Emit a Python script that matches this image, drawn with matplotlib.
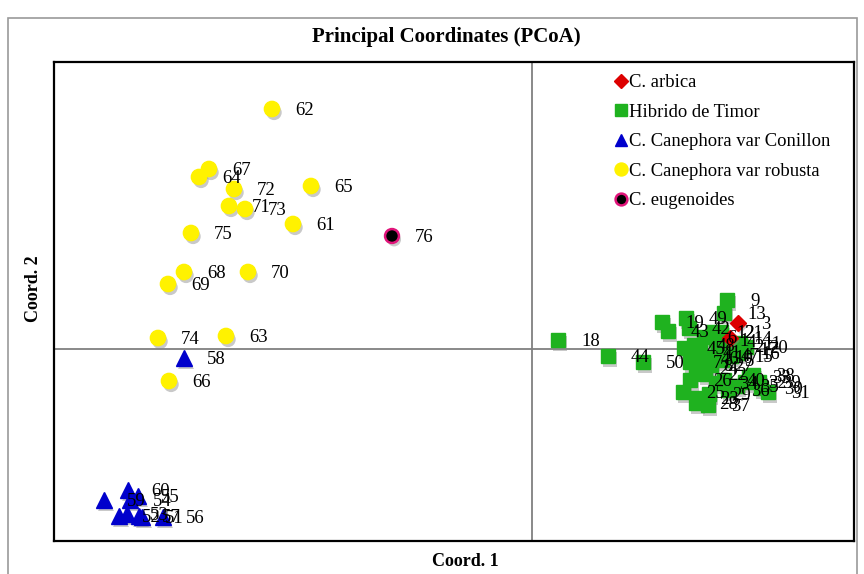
import matplotlib.pyplot as plt
import matplotlib.patheffects as pe
from matplotlib.patches import Rectangle

plt.rcParams['font.family'] = ['Liberation Serif', 'DejaVu Serif']

# Data: sample ids and PCoA coordinates (coord 1, coord 2)
arabica_ids = [3, 14]
arabica_x = [1.030, 0.990]
arabica_y = [0.130, 0.055]

timor_ids = [18, 44, 50, 19, 43, 49, 42, 9, 13, 6, 12, 21, 1, 4, 2, 20, 11, 17, 16, 15,
             45, 48, 41, 46, 10, 47, 5, 7, 8, 24, 27, 22, 26, 34, 40, 36, 35, 32, 33, 38,
             39, 30, 31, 25, 23, 29, 28, 37]
timor_x = [0.130, 0.380, 0.555, 0.650, 0.680, 0.770, 0.785, 0.975, 0.960, 0.860, 0.905, 0.945,
           0.920, 0.960, 0.995, 1.070, 1.040, 1.020, 1.030, 0.995, 0.760, 0.810, 0.840, 0.830,
           0.895, 0.930, 0.950, 0.790, 0.840, 0.820, 0.895, 0.865, 0.790, 0.920, 0.960, 0.980,
           1.025, 1.065, 1.085, 1.105, 1.135, 1.145, 1.180, 0.755, 0.825, 0.885, 0.820, 0.880]
timor_y = [0.045, -0.035, -0.065, 0.135, 0.090, 0.155, 0.105, 0.245, 0.180, 0.060, 0.085, 0.085,
           0.045, 0.040, 0.015, 0.010, 0.030, 0.000, -0.020, -0.035, 0.005, 0.020, -0.015, -0.045,
           -0.040, -0.030, -0.055, -0.065, -0.080, -0.095, -0.080, -0.125, -0.155, -0.170, -0.155,
           -0.205, -0.185, -0.165, -0.140, -0.130, -0.165, -0.195, -0.215, -0.215, -0.245, -0.225,
           -0.270, -0.280]

conillon_ids = [58, 59, 60, 54, 55, 52, 53, 57, 51, 56]
conillon_x = [-1.740, -2.140, -2.020, -2.010, -1.970, -2.065, -2.025, -1.965, -1.950, -1.845]
conillon_y = [-0.045, -0.755, -0.705, -0.755, -0.735, -0.835, -0.825, -0.835, -0.840, -0.840]

robusta_ids = [62, 67, 64, 72, 71, 73, 65, 61, 75, 68, 69, 70, 74, 63, 66]
robusta_x = [-1.300, -1.615, -1.665, -1.490, -1.515, -1.435, -1.105, -1.195, -1.705, -1.740,
             -1.820, -1.420, -1.870, -1.530, -1.815]
robusta_y = [1.200, 0.900, 0.860, 0.800, 0.715, 0.700, 0.815, 0.625, 0.580, 0.385,
             0.325, 0.385, 0.055, 0.065, -0.160]

eugen_ids = [76]
eugen_x = [-0.700]
eugen_y = [0.565]

fig = plt.figure(figsize=(8.64, 5.74), dpi=100)
fig.patches.append(Rectangle((8 / 864, -0.1), 849 / 864, 1.1 - 18 / 574,
                             transform=fig.transFigure, fill=False,
                             edgecolor='#9a9a9a', linewidth=1.2))
ax = fig.add_axes([54 / 864, 1 - 541 / 574, 800 / 864, 479 / 574])
ax.set_xlim(-2.39, 1.61)
ax.set_ylim(-0.96, 1.435)
ax.set_xticks([])
ax.set_yticks([])
for s in ax.spines.values():
    s.set_linewidth(1.6)
ax.axhline(0, color='#808080', lw=1.3, zorder=1)
ax.axvline(0, color='#808080', lw=1.3, zorder=1)

shadow = [pe.SimplePatchShadow(offset=(1.5, -2.5), shadow_rgbFace='#888888', alpha=0.45), pe.Normal()]

groups = [
    (timor_ids, timor_x, timor_y, dict(marker='s', ms=10.5, color='#1fb21f', mec='#1fb21f'), 'Hibrido de Timor'),
    (arabica_ids, arabica_x, arabica_y, dict(marker='D', ms=8, color='#dd0000', mec='#dd0000'), 'C. arbica'),
    (conillon_ids, conillon_x, conillon_y, dict(marker='^', ms=11, color='#0000cc', mec='#0000cc'), 'C. Canephora var Conillon'),
    (robusta_ids, robusta_x, robusta_y, dict(marker='o', ms=11, color='#fff200', mec='#fff200'), 'C. Canephora var robusta'),
    (eugen_ids, eugen_x, eugen_y, dict(marker='o', ms=10, color='black', mec='#e0147a', mew=1.8), 'C. eugenoides'),
]
handles = {}
for ids, xs, ys, style, name in groups:
    ax.plot(xs, ys, linestyle='none', zorder=3, path_effects=shadow, **style)
    handles[name] = ax.plot([], [], linestyle='none', **style)[0]
    for i, x, y in zip(ids, xs, ys):
        ax.annotate(str(i), (x, y), xytext=(16.5, -1), textcoords='offset points',
                    ha='left', va='center', fontsize=13.5, zorder=5)

order = ['C. arbica', 'Hibrido de Timor', 'C. Canephora var Conillon',
         'C. Canephora var robusta', 'C. eugenoides']
for name in order:
    handles[name].set_markersize(handles[name].get_markersize() * 0.85)
ax.legend([handles[n] for n in order], order, loc='upper left',
          bbox_to_anchor=(0.692, 0.99), frameon=False, fontsize=13.4,
          handlelength=0.6, handletextpad=0.15, labelspacing=0.67, borderaxespad=0)

fig.text(446 / 864, 1 - 37 / 574, 'Principal Coordinates (PCoA)', ha='center', va='center',
         fontsize=15, fontweight='bold')
fig.text(465 / 864, 1 - 561 / 574, 'Coord. 1', ha='center', va='center',
         fontsize=13, fontweight='bold')
fig.text(33 / 864, 1 - 289 / 574, 'Coord. 2', ha='center', va='center', rotation=90,
         fontsize=13, fontweight='bold')

fig.savefig('out.png', dpi=100)
